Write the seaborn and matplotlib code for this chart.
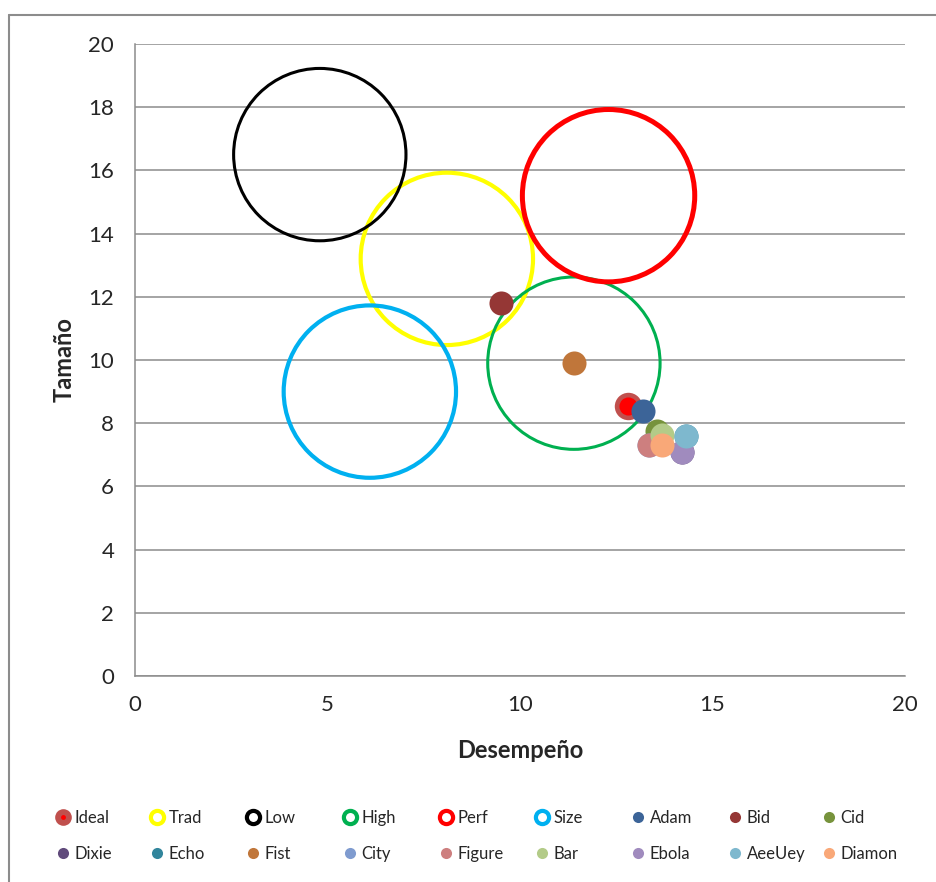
import numpy as np
import pandas as pd
import matplotlib.pyplot as plt
import seaborn as sns
from matplotlib.lines import Line2D
from matplotlib.legend_handler import HandlerTuple

# hollow "segment" circles
seg_names = ['Trad', 'Low', 'High', 'Perf', 'Size']
seg_x = [8.1, 4.8, 11.4, 12.3, 6.1]
seg_y = [13.2, 16.5, 9.9, 15.2, 9.0]
seg_colors = ['#FFFF00', '#000000', '#00B050', '#FF0000', '#00B0F0']
seg_widths = [3.0, 2.2, 2.2, 3.6, 3.0]

# ideal point
ideal_x = 12.8
ideal_y = 8.53

# products
prod_names = ['Adam', 'Bid', 'Cid', 'Dixie', 'Echo', 'Fist', 'City', 'Figure',
              'Bar', 'Ebola', 'AeeUey', 'Diamon']
prod_x = [13.2, 9.5, 13.55, 14.2, 14.3, 11.4, 13.35, 13.35, 13.7, 14.2, 14.3, 13.7]
prod_y = [8.4, 11.8, 7.75, 7.1, 7.6, 9.9, 7.3, 7.3, 7.62, 7.1, 7.58, 7.3]
prod_colors = ['#3C6498', '#953735', '#77933C', '#604A7B', '#31859C', '#C0763A',
               '#7F9BCF', '#CD7F7F', '#B3CB88', '#A08BBE', '#7EB8CE', '#F9A878']

legend_order = ['Ideal', 'Trad', 'Low', 'High', 'Perf', 'Size', 'Adam', 'Bid', 'Cid',
                'Dixie', 'Echo', 'Fist', 'City', 'Figure', 'Bar', 'Ebola', 'AeeUey', 'Diamon']

sns.set_style('white')
plt.rcParams['font.family'] = ['Lato', 'DejaVu Sans']

fig = plt.figure(figsize=(9.37, 8.82), dpi=100)
ax = fig.add_axes([135 / 937, 206 / 882, 770 / 937, 632 / 882])

seg_df = pd.DataFrame({'x': seg_x, 'y': seg_y, 'name': seg_names})
for i, row in seg_df.iterrows():
    sns.scatterplot(x=[row['x']], y=[row['y']], s=15400, facecolor='none',
                    edgecolor=seg_colors[i], linewidth=seg_widths[i], ax=ax, zorder=3)

sns.scatterplot(x=[ideal_x], y=[ideal_y], s=390, color='#C0504D', linewidth=0, ax=ax, zorder=4)
sns.scatterplot(x=[ideal_x], y=[ideal_y], s=170, color='#FF0000', linewidth=0, ax=ax, zorder=4)

prod_df = pd.DataFrame({'x': prod_x, 'y': prod_y, 'name': prod_names})
for i, row in prod_df.iterrows():
    sns.scatterplot(x=[row['x']], y=[row['y']], s=300, color=prod_colors[i],
                    linewidth=0, ax=ax, zorder=5)

ax.set_xlim(0, 20)
ax.set_ylim(0, 20)
ax.set_xticks(range(0, 21, 5))
ax.set_yticks(range(0, 21, 2))
ax.grid(axis='y', color='#8C8C8C', linewidth=1.1)
ax.set_axisbelow(True)
for side in ['top', 'right']:
    ax.spines[side].set_visible(False)
for side in ['left', 'bottom']:
    ax.spines[side].set_color('#8C8C8C')
    ax.spines[side].set_linewidth(1.1)
ax.tick_params(axis='both', length=0, labelsize=16)
ax.tick_params(axis='y', pad=15)
ax.tick_params(axis='x', pad=14)
ax.set_xlabel('Desempeño', fontsize=17, fontweight='bold', labelpad=17)
ax.set_ylabel('Tamaño', fontsize=17, fontweight='bold', labelpad=9)

# legend handles
handles = {}
handles['Ideal'] = (Line2D([], [], marker='o', ls='none', markersize=12, markerfacecolor='#C0504D',
                           markeredgewidth=0),
                    Line2D([], [], marker='o', ls='none', markersize=3.5, markerfacecolor='#FF0000',
                           markeredgewidth=0))
for name, c in zip(seg_names, seg_colors):
    handles[name] = Line2D([], [], marker='o', ls='none', markersize=9.5, markerfacecolor='white',
                           markeredgecolor=c, markeredgewidth=3)
for name, c in zip(prod_names, prod_colors):
    handles[name] = Line2D([], [], marker='o', ls='none', markersize=8, markerfacecolor=c,
                           markeredgewidth=0)

# one legend entry per slot so every row shares the same baseline
col_x = [63, 157, 253, 350, 446, 542, 638, 735, 829]
row_y = [818, 854]
fs = 12
half_handle = 0.8 * fs * 100 / 72 / 2
for k, name in enumerate(legend_order):
    cx = col_x[k % 9]
    cy = row_y[k // 9]
    fig.legend([handles[name]], [name], loc='center left',
               bbox_to_anchor=((cx - half_handle) / 937, 1 - cy / 882),
               frameon=False, fontsize=fs, handlelength=0.8, handletextpad=0.3,
               borderpad=0, borderaxespad=0,
               handler_map={tuple: HandlerTuple(ndivide=1, pad=0)})

# outer chart frame
fig.add_artist(Line2D([9 / 937, 9 / 937], [0, 1 - 15 / 882], color='#8C8C8C', linewidth=1.5))
fig.add_artist(Line2D([9 / 937, 1], [1 - 15 / 882, 1 - 15 / 882], color='#8C8C8C', linewidth=1.5))

fig.savefig('out.png', dpi=100)
